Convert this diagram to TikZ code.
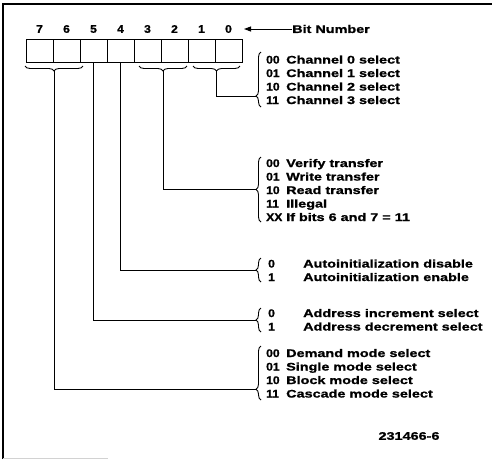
\documentclass[tikz,border=0pt]{standalone}
\usepackage{fontspec}
\newfontfamily\labfont[FakeStretch=1.31, FakeBold=1.2]{Liberation Sans}
\newfontfamily\codefont[FakeStretch=1.1, FakeBold=1.2]{Liberation Sans}
\usetikzlibrary{decorations.pathreplacing,arrows.meta,positioning}
\tikzset{
  cell/.style={draw, line width=1pt, minimum width=27pt, minimum height=23pt, inner sep=0pt},
  bitno/.style={inner sep=0pt, font=\codefont\bfseries\fontsize{11}{13}\selectfont},
  lab/.style={anchor=base west, inner sep=0pt, font=\labfont\bfseries\fontsize{11}{13.5}\selectfont},
  code/.style={anchor=base west, inner sep=0pt, font=\codefont\bfseries\fontsize{11}{13.5}\selectfont},
  wire/.style={line width=0.9pt},
  grp/.style={decorate, decoration={brace, amplitude=5pt}, line width=0.9pt},
  lowgrp/.style={decorate, decoration={brace, amplitude=5pt, aspect=0.2}, line width=0.9pt},
}
\begin{document}
\begin{tikzpicture}[x=1pt, y=-1pt]
  \useasboundingbox (0,0) rectangle (492,459);
  % scan frame: left and top edge, faint trace at the bottom
  \draw[line width=1.2pt] (3,459) -- (3,4) -- (492,4);
  \draw[gray!35, line width=0.6pt] (3,458) -- (108,458);
  % register cells, bit 7 on the left
  \foreach \b in {0,...,7} {
    \node[cell] (b\b) at ({39.5+27*(7-\b)},50.5) {};
    \node[bitno] (n\b) at ({39.5+27*(7-\b)},29) {\b};
  }
  \node[lab, anchor=west] (bitlbl) at (292,29) {Bit Number};
  \coordinate (bitarr) at (244,29);
  \draw[wire, -{Triangle[length=7pt, width=5pt]}] (bitlbl.west) -- (bitarr);
  % braces under the two-bit fields
  \draw[grp] (83,66) -- (25,66);
  \draw[grp] (187,66) -- (139,66);
  \draw[grp] (240,66) -- (193,66);
  \coordinate (t76) at (54,71);
  \coordinate (t32) at (163,71);
  \coordinate (t10) at (216.5,71);
  % bits 1-0
  \foreach \c/\t [count=\i from 0] in {00/Channel 0 select, 01/Channel 1 select,
      10/Channel 2 select, 11/Channel 3 select} {
    \node[code] (chc\i) at (266,{63.5+13.5*\i}) {\c};
    \node[lab] (cht\i) at (286,{63.5+13.5*\i}) {\t};
  }
  \draw[lowgrp] (261,107) -- (261,52);
  \coordinate (chtip) at (256,96);
  % bits 3-2
  \foreach \c/\t [count=\i from 0] in {00/Verify transfer, 01/Write transfer,
      10/Read transfer, 11/Illegal, XX/If bits 6 and 7 = 11} {
    \node[code] (trc\i) at (266,{167+13.5*\i}) {\c};
    \node[lab] (trt\i) at (286,{167+13.5*\i}) {\t};
  }
  \draw[grp] (261,222) -- (261,157);
  \coordinate (trtip) at (256,189.5);
  % bit 4
  \foreach \c/\t [count=\i from 0] in {0/Autoinitialization disable,
      1/Autoinitialization enable} {
    \node[code] (auc\i) at (268,{267.5+13.5*\i}) {\c};
    \node[lab] (aut\i) at (303,{267.5+13.5*\i}) {\t};
  }
  \draw[grp] (261,282) -- (261,258);
  \coordinate (autip) at (256,270);
  % bit 5
  \foreach \c/\t [count=\i from 0] in {0/Address increment select,
      1/Address decrement select} {
    \node[code] (adc\i) at (268,{317+13.5*\i}) {\c};
    \node[lab] (adt\i) at (303,{317+13.5*\i}) {\t};
  }
  \draw[grp] (261,332) -- (261,308);
  \coordinate (adtip) at (256,320);
  % bits 7-6
  \foreach \c/\t [count=\i from 0] in {00/Demand mode select, 01/Single mode select,
      10/Block mode select, 11/Cascade mode select} {
    \node[code] (moc\i) at (266,{357+13.5*\i}) {\c};
    \node[lab] (mot\i) at (286,{357+13.5*\i}) {\t};
  }
  \draw[lowgrp] (261,400) -- (261,346);
  \coordinate (motip) at (256,389);
  % connectors from the fields to their tables
  \draw[wire] (t10) |- (chtip);
  \draw[wire] (t32) |- (trtip);
  \draw[wire] (b4.south) |- (autip);
  \draw[wire] (b5.south) |- (adtip);
  \draw[wire] (t76) |- (motip);
  \node[lab, anchor=center] (figid) at (409,436) {231466-6};
\end{tikzpicture}
\end{document}
